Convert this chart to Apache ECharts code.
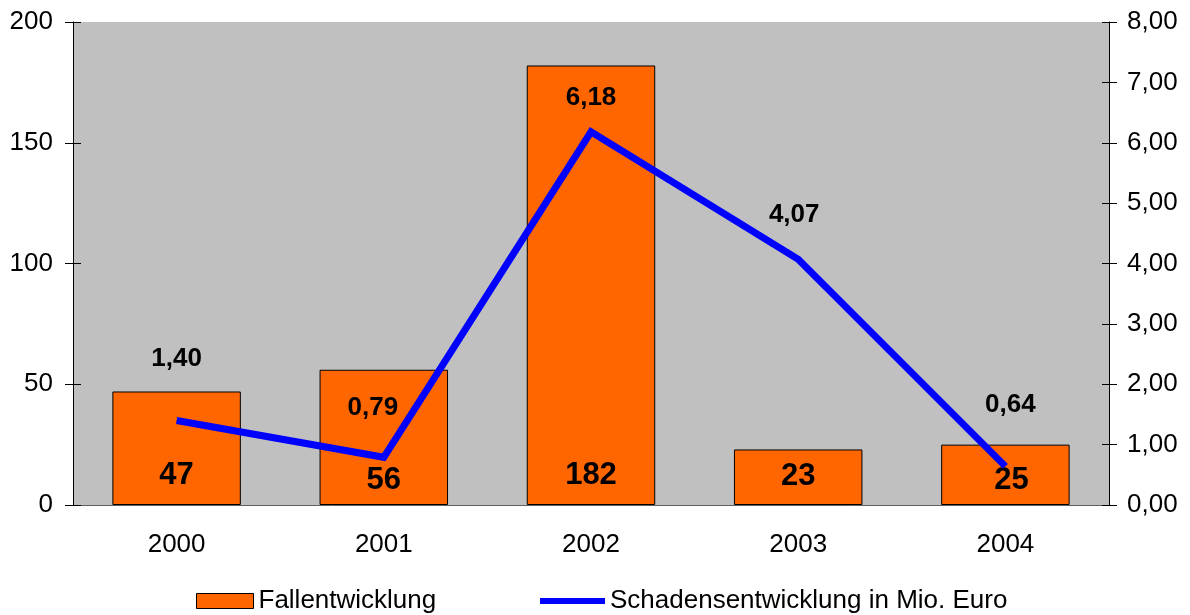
<!DOCTYPE html>
<html>
<head>
<meta charset="utf-8">
<script src="https://cdn.jsdelivr.net/npm/echarts@6/dist/echarts.min.js"></script>
<style>
  html, body { margin: 0; padding: 0; background: #ffffff; }
  #chart { width: 1190px; height: 615px; }
</style>
</head>
<body>
<div id="chart"></div>
<script>
// Jahre und Werte
const years = ['2000', '2001', '2002', '2003', '2004'];
const fallzahlen = [47, 56, 182, 23, 25];
const schaden = [1.40, 0.79, 6.18, 4.07, 0.64];

// Label placement tweaks per point (distance from mark, horizontal shift)
const lineLabelDistance = [49, 36, 21, 31, 49];
const lineLabelShift = [0, -11, 0, -4, 5];
const barLabelDistance = [14, 9, 14, 13, 9];
const barLabelShift = [0, 0, 0, 0, 6];

const FONT = '"Liberation Sans", Arial, sans-serif';
const fmtDe = v => v.toFixed(2).replace('.', ',');

const chart = echarts.init(document.getElementById('chart'), null, { renderer: 'canvas' });

const barData = fallzahlen.map((v, i) => ({
  value: v,
  label: { distance: barLabelDistance[i], offset: [barLabelShift[i], 0] }
}));
const lineData = schaden.map((v, i) => ({
  value: v,
  label: { distance: lineLabelDistance[i], offset: [lineLabelShift[i], 0] }
}));

const leftAxisBase = { type: 'value', min: 0, max: 200, interval: 50, position: 'left', splitLine: { show: false } };
const rightAxisBase = { type: 'value', min: 0, max: 8, interval: 1, position: 'right', splitLine: { show: false } };

const option = {
  animation: false,
  textStyle: { fontFamily: FONT },
  grid: {
    left: 73, right: 81, top: 22, bottom: 110,
    show: true, backgroundColor: '#C0C0C0', borderWidth: 0
  },
  legend: [
    {
      data: [{ name: 'Fallentwicklung', icon: 'rect' }],
      left: 191, top: 583,
      itemWidth: 57, itemHeight: 15, itemGap: 5,
      itemStyle: { borderColor: '#000', borderWidth: 1 },
      textStyle: { fontSize: 26, color: '#000', fontFamily: FONT }
    },
    {
      data: [{ name: 'Schadensentwicklung in Mio. Euro', icon: 'rect' }],
      left: 535, top: 583,
      itemWidth: 65, itemHeight: 6, itemGap: 5,
      itemStyle: { borderWidth: 0 },
      textStyle: { fontSize: 26, color: '#000', fontFamily: FONT }
    }
  ],
  xAxis: {
    type: 'category',
    data: years,
    axisLine: { lineStyle: { color: '#606060', width: 1 } },
    axisTick: { show: false },
    axisLabel: { color: '#000', fontSize: 26, margin: 27, fontFamily: FONT }
  },
  yAxis: [
    Object.assign({}, leftAxisBase, {
      axisLine: { show: true, lineStyle: { color: '#000' } },
      axisTick: { show: true, length: 8, lineStyle: { color: '#000' } },
      axisLabel: { color: '#000', fontSize: 26, margin: 20, fontFamily: FONT }
    }),
    Object.assign({}, rightAxisBase, {
      axisLine: { show: true, lineStyle: { color: '#000' } },
      axisTick: { show: true, length: 8, lineStyle: { color: '#000' } },
      axisLabel: { color: '#000', fontSize: 26, margin: 18, fontFamily: FONT, formatter: v => fmtDe(v) }
    }),
    // inner halves of the crossing tick marks
    Object.assign({}, leftAxisBase, {
      axisLine: { show: false },
      axisTick: { show: true, inside: true, length: 8, lineStyle: { color: '#000' } },
      axisLabel: { show: false }
    }),
    Object.assign({}, rightAxisBase, {
      axisLine: { show: false },
      axisTick: { show: true, inside: true, length: 7, lineStyle: { color: '#000' } },
      axisLabel: { show: false }
    })
  ],
  series: [
    {
      name: 'Fallentwicklung',
      type: 'bar',
      yAxisIndex: 0,
      data: barData,
      barWidth: '62%',
      itemStyle: { color: '#FF6600', borderColor: '#000', borderWidth: 1 },
      label: {
        show: true, position: 'insideBottom',
        color: '#000', fontSize: 31, fontWeight: 'bold', fontFamily: FONT
      },
      z: 2
    },
    {
      name: 'Schadensentwicklung in Mio. Euro',
      type: 'line',
      yAxisIndex: 1,
      data: lineData,
      showSymbol: true,
      symbol: 'circle',
      symbolSize: 0,
      itemStyle: { color: '#0000FF' },
      lineStyle: { color: '#0000FF', width: 7, join: 'miter' },
      label: {
        show: true, position: 'top',
        color: '#000', fontSize: 26, fontWeight: 'bold', fontFamily: FONT,
        formatter: p => fmtDe(p.value)
      },
      z: 3
    }
  ]
};

chart.setOption(option);
</script>
</body>
</html>
